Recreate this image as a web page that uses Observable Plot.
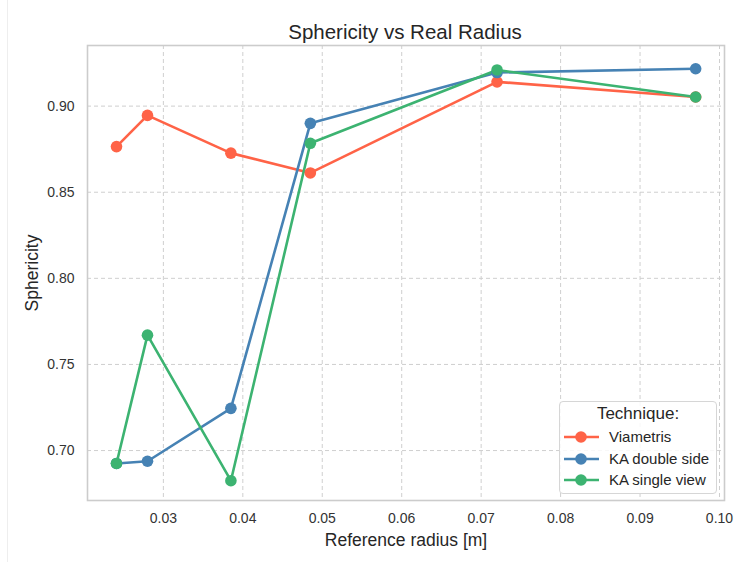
<!DOCTYPE html>
<html>
<head>
<meta charset="utf-8">
<script src="https://cdn.jsdelivr.net/npm/d3@7"></script>
<script src="https://cdn.jsdelivr.net/npm/@observablehq/plot@0.6"></script>
<style>
  html, body { margin: 0; padding: 0; background: #fff; }
  body { width: 736px; height: 562px; position: relative; overflow: hidden;
         font-family: "Liberation Sans", Arial, sans-serif; }
  #edge { position: absolute; left: 7px; top: 0; width: 1px; height: 562px; background: #eeeeee; }
  #title { height: 40px; position: relative; }
  #title span { position: absolute; left: 405px; top: 20px; transform: translateX(-50%);
                font-size: 20.5px; color: #262626; white-space: nowrap; }
  #legend { position: absolute; left: 559px; top: 401px; width: 158px; height: 93px;
            box-sizing: border-box; border: 1px solid #d6d6d6; border-radius: 4px;
            background: rgba(255,255,255,0.85); }
  #legend .ttl { position: absolute; left: 0; width: 100%; top: 2px; text-align: center;
                 font-size: 17px; color: #262626; }
  #legend .row { position: absolute; left: 3px; height: 20px; }
  #legend .row svg { position: absolute; left: 0; top: 0; }
  #legend .row span { position: absolute; left: 46px; top: 1px; font-size: 15px; color: #262626; white-space: nowrap; }
</style>
</head>
<body>
<div id="edge"></div>
<div id="title"><span>Sphericity vs Real Radius</span></div>
<div id="chart"></div>
<div id="legend"></div>
<script>
// Reference radius of each sphere [m]
const radius = [0.0241, 0.0280, 0.0385, 0.0485, 0.0720, 0.0970];

// Measured sphericity per technique
const viametris    = [0.8765, 0.8946, 0.8727, 0.8612, 0.9141, 0.9053];
const kaDoubleSide = [0.6925, 0.6938, 0.7245, 0.8900, 0.9195, 0.9217];
const kaSingleView = [0.6925, 0.7670, 0.6825, 0.8784, 0.9210, 0.9053];

const techniques = ["Viametris", "KA double side", "KA single view"];
const colors = ["#ff6347", "#4682b4", "#3cb371"];

const xTicks = [0.03, 0.04, 0.05, 0.06, 0.07, 0.08, 0.09, 0.10];
const yTicks = [0.70, 0.75, 0.80, 0.85, 0.90];

const series = [viametris, kaDoubleSide, kaSingleView];
const rows = [];
series.forEach((vals, s) => {
  vals.forEach((v, i) => rows.push({technique: techniques[s], radius: radius[i], sphericity: v}));
});

const font = '"Liberation Sans", Arial, sans-serif';
const grid = {stroke: "#cfcfcf", strokeOpacity: 1, strokeWidth: 1, strokeDasharray: "4,3"};

const chart = Plot.plot({
  width: 736,
  height: 522,
  marginTop: 5,
  marginBottom: 62,
  marginLeft: 87,
  marginRight: 12,
  style: {fontFamily: font, fontSize: "14px", color: "#333333", background: "white"},
  x: {domain: [0.02045, 0.10063], ticks: xTicks, tickFormat: d3.format(".2f")},
  y: {domain: [0.6710, 0.9352], ticks: yTicks, tickFormat: d3.format(".2f")},
  color: {domain: techniques, range: colors},
  marks: [
    Plot.gridX(xTicks, grid),
    Plot.gridY(yTicks, grid),
    Plot.frame({stroke: "#cccccc", strokeWidth: 1.6}),
    Plot.axisX(xTicks, {tickSize: 0, tickPadding: 13, fontSize: 14, fill: "#333333",
                        label: "Reference radius [m]", labelAnchor: "center", labelArrow: "none",
                        labelOffset: 45}),
    Plot.axisY(yTicks, {tickSize: 0, tickPadding: 13, fontSize: 14, fill: "#333333",
                        label: "Sphericity", labelAnchor: "center", labelArrow: "none",
                        labelOffset: 62}),
    Plot.line(rows, {x: "radius", y: "sphericity", z: "technique", stroke: "technique", strokeWidth: 2.6}),
    Plot.dot(rows, {x: "radius", y: "sphericity", fill: "technique", r: 5.8})
  ]
});

// Enlarge the axis titles
chart.querySelectorAll('[aria-label="x-axis label"] text, [aria-label="y-axis label"] text')
  .forEach(t => { t.setAttribute("font-size", "17.5"); t.setAttribute("fill", "#262626"); });

document.getElementById("chart").appendChild(chart);

// Legend
const legend = document.getElementById("legend");
legend.innerHTML = '<div class="ttl">Technique:</div>';
techniques.forEach((name, i) => {
  const row = document.createElement("div");
  row.className = "row";
  row.style.top = (25 + i * 21.5) + "px";
  row.innerHTML = `<svg width="40" height="20"><line x1="1" x2="36" y1="10" y2="10" stroke="${colors[i]}" stroke-width="2.6"/><circle cx="18" cy="10" r="5.8" fill="${colors[i]}"/></svg><span>${name}</span>`;
  legend.appendChild(row);
});
</script>
</body>
</html>
